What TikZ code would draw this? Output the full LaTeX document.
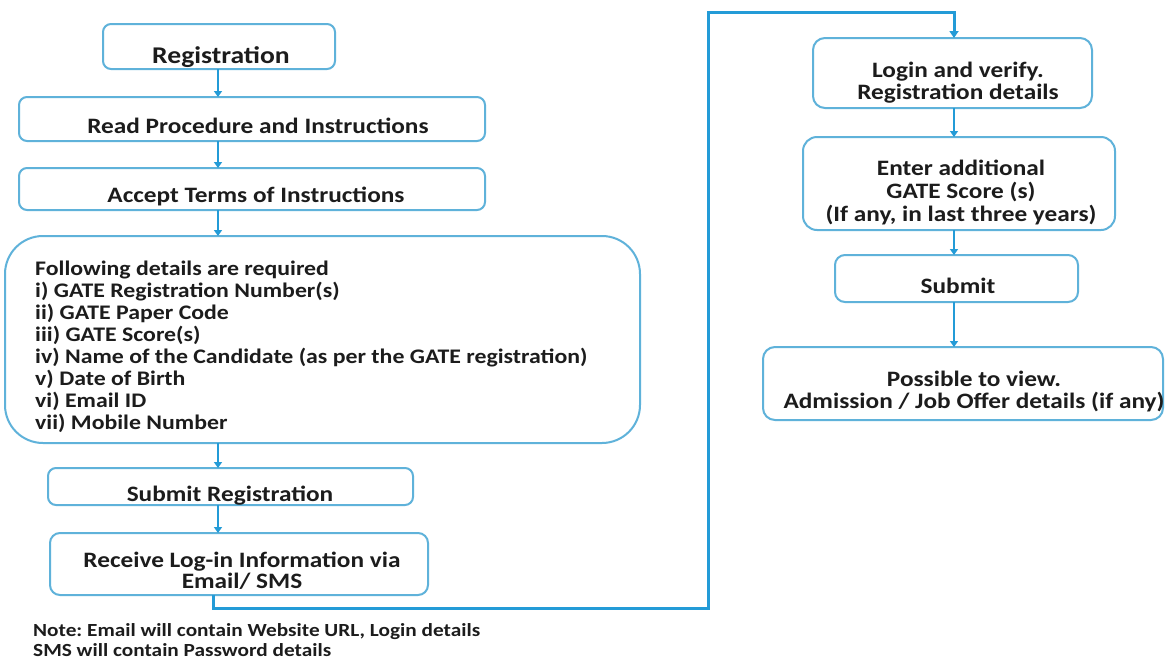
\documentclass[tikz,border=0pt]{standalone}
\usepackage{fontspec}
\setmainfont{Carlito}[FakeStretch=1.15]
\usetikzlibrary{arrows.meta}
\definecolor{boxc}{RGB}{95,178,218}
\definecolor{linec}{RGB}{35,155,215}
\definecolor{txtc}{RGB}{28,28,28}
\newcommand\setfs[2]{\fontsize{#1}{#2}\selectfont}
\frenchspacing
\begin{document}
\begin{tikzpicture}[x=1pt,y=-1pt,
  box/.style={draw=boxc, line width=2pt, rounded corners=#1, inner sep=0pt, outer sep=0pt, anchor=north west},
  box/.default=8pt,
  lbl/.style={text=txtc, font=\bfseries, inner sep=0pt, anchor=base, align=center},
  lblleft/.style={text=txtc, font=\bfseries, inner sep=0pt, anchor=base west, align=left},
  arr/.style={draw=linec, line width=2pt, -{Triangle[width=8pt,length=6pt]}},
  conn/.style={draw=linec, line width=3pt, -{Triangle[width=9pt,length=7pt]}}]
\useasboundingbox (0,0) rectangle (1165,662);
\fill[white] (0,0) rectangle (1165,662);

% left column boxes
\node[box, minimum width=232pt, minimum height=45pt] (reg) at (103,24) {};
\node[box, minimum width=466pt, minimum height=44pt] (read) at (19,97) {};
\node[box, minimum width=466pt, minimum height=42pt] (acc) at (19,168) {};
\node[box=38pt, minimum width=635pt, minimum height=207pt] (big) at (5,236) {};
\node[box, minimum width=365pt, minimum height=37pt] (subreg) at (48,468) {};
\node[box=10pt, minimum width=378pt, minimum height=62pt] (recv) at (50,533) {};

% right column boxes
\node[box=12pt, minimum width=279pt, minimum height=70pt] (login) at (813,38) {};
\node[box=14pt, minimum width=312pt, minimum height=93pt] (enter) at (803,137) {};
\node[box=10pt, minimum width=243pt, minimum height=47pt] (sub) at (835,255) {};
\node[box=12pt, minimum width=400pt, minimum height=73pt] (poss) at (763,347) {};

% labels (multi-line labels are placed by the baseline of their last line)
\node[lbl, font=\bfseries\setfs{24}{24}] (regt) at (221,63) {Registration};
\node[lbl, font=\bfseries\setfs{22}{22}] (readt) at (258,133) {Read Procedure and Instructions};
\node[lbl, font=\bfseries\setfs{22}{22}] (acct) at (256,202) {Accept Terms of Instructions};
\node[lblleft, font=\bfseries\setfs{20.7}{22}] (bigt) at (35,429) {Following details are required\\
i) GATE Registration Number(s)\\
ii) GATE Paper Code\\
iii) GATE Score(s)\\
iv) Name of the Candidate (as per the GATE registration)\\
v) Date of Birth\\
vi) Email ID\\
vii) Mobile Number};
\node[lbl, font=\bfseries\setfs{22}{22}] (subregt) at (230,501) {Submit Registration};
\node[lbl, font=\bfseries\setfs{22}{21}] (recvt) at (242,588) {Receive Log-in Information via\\Email/ SMS};
\node[lblleft, font=\bfseries\setfs{18.5}{19.5}] (note) at (33,656) {Note: Email will contain Website URL, Login details\\SMS will contain Password details};

\node[lbl, font=\bfseries\setfs{22}{22}] (logint) at (958,99) {Login and verify.\\Registration details};
\node[lbl, font=\bfseries\setfs{22}{23}] (entert) at (961,221) {Enter additional\\GATE Score (s)\\(If any, in last three years)};
\node[lbl, font=\bfseries\setfs{22}{22}] (subt) at (958,293) {Submit};
\node[lbl, font=\bfseries\setfs{22}{22}] (posst) at (974,408) {Possible to view.\\Admission / Job Offer details (if any)};

% arrows
\coordinate (ax) at (218,0);
\coordinate (bx) at (954,0);
\draw[arr] (ax |- reg.south) -- (ax |- read.north);
\draw[arr] (ax |- read.south) -- (ax |- acc.north);
\draw[arr] (ax |- acc.south) -- (ax |- big.north);
\draw[arr] (ax |- big.south) -- (ax |- subreg.north);
\draw[arr] (ax |- subreg.south) -- (ax |- recv.north);
\draw[arr] (bx |- login.south) -- (bx |- enter.north);
\draw[arr] (bx |- enter.south) -- (bx |- sub.north);
\draw[arr] (bx |- sub.south) -- (bx |- poss.north);

\coordinate (p1) at (213,608);
\coordinate (p2) at (708,608);
\coordinate (p3) at (708,12);
\coordinate (p4) at (954,12);
\draw[conn] (p1 |- recv.south) -- (p1) -- (p2) -- (p3) -- (p4) -- (p4 |- login.north);
\end{tikzpicture}
\end{document}
